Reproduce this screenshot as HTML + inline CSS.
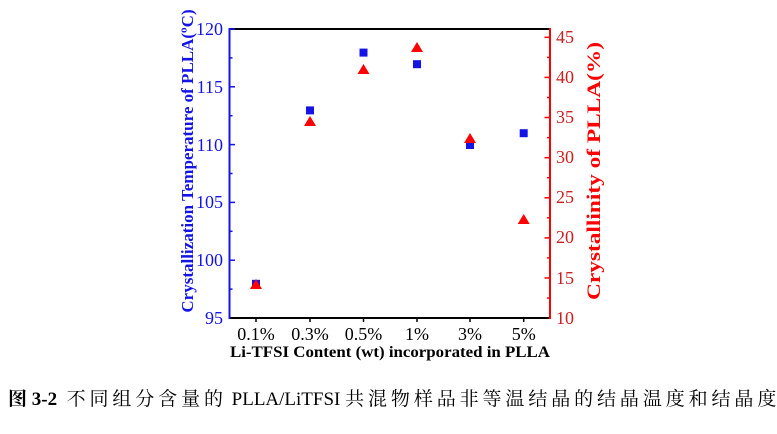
<!DOCTYPE html>
<html><head><meta charset="utf-8"><style>
html,body{margin:0;padding:0;background:#fff;width:777px;height:434px;overflow:hidden}
svg{display:block}
.c{letter-spacing:3.9px}
</style></head><body>
<svg width="777" height="434" xmlns="http://www.w3.org/2000/svg" font-family="Liberation Serif, serif">
<line x1="229.5" y1="29" x2="550" y2="29" stroke="#000" stroke-width="2"/>
<line x1="229.5" y1="318" x2="550" y2="318" stroke="#000" stroke-width="2"/>
<line x1="229.5" y1="28" x2="229.5" y2="319" stroke="#1414e6" stroke-width="2"/>
<line x1="550" y1="28" x2="550" y2="319" stroke="#ff0000" stroke-width="2"/>
<g stroke="#1414e6" stroke-width="1.5">
<line x1="229.5" x2="235" y1="29" y2="29"/><line x1="229.5" x2="232.5" y1="57.9" y2="57.9"/>
<line x1="229.5" x2="235" y1="86.8" y2="86.8"/><line x1="229.5" x2="232.5" y1="115.7" y2="115.7"/>
<line x1="229.5" x2="235" y1="144.6" y2="144.6"/><line x1="229.5" x2="232.5" y1="173.5" y2="173.5"/>
<line x1="229.5" x2="235" y1="202.4" y2="202.4"/><line x1="229.5" x2="232.5" y1="231.3" y2="231.3"/>
<line x1="229.5" x2="235" y1="260.2" y2="260.2"/><line x1="229.5" x2="232.5" y1="289.1" y2="289.1"/>
</g>
<g fill="#1414e6" font-size="18" text-anchor="end">
<text x="223" y="35">120</text><text x="223" y="93">115</text><text x="223" y="151">110</text>
<text x="223" y="208">105</text><text x="223" y="266">100</text><text x="223" y="324">95</text>
</g>
<g stroke="#ff0000" stroke-width="1.5">
<line x1="544.5" x2="550" y1="37.3" y2="37.3"/><line x1="547" x2="550" y1="57.4" y2="57.4"/>
<line x1="544.5" x2="550" y1="77.4" y2="77.4"/><line x1="547" x2="550" y1="97.5" y2="97.5"/>
<line x1="544.5" x2="550" y1="117.5" y2="117.5"/><line x1="547" x2="550" y1="137.6" y2="137.6"/>
<line x1="544.5" x2="550" y1="157.7" y2="157.7"/><line x1="547" x2="550" y1="177.7" y2="177.7"/>
<line x1="544.5" x2="550" y1="197.8" y2="197.8"/><line x1="547" x2="550" y1="217.8" y2="217.8"/>
<line x1="544.5" x2="550" y1="237.9" y2="237.9"/><line x1="547" x2="550" y1="257.9" y2="257.9"/>
<line x1="544.5" x2="550" y1="278" y2="278"/><line x1="547" x2="550" y1="298" y2="298"/>
</g>
<g fill="#cc2020" font-size="18">
<text x="556" y="43">45</text><text x="556" y="83">40</text><text x="556" y="123">35</text>
<text x="556" y="163">30</text><text x="556" y="203">25</text><text x="556" y="243">20</text>
<text x="556" y="284">15</text><text x="556" y="324">10</text>
</g>
<g stroke="#000" stroke-width="1.5">
<line x1="256" x2="256" y1="318" y2="322"/><line x1="310" x2="310" y1="318" y2="322"/>
<line x1="363.5" x2="363.5" y1="318" y2="322"/><line x1="417" x2="417" y1="318" y2="322"/>
<line x1="470" x2="470" y1="318" y2="322"/><line x1="523.7" x2="523.7" y1="318" y2="322"/>
</g>
<g font-size="18" text-anchor="middle" fill="#000">
<text x="256" y="340">0.1%</text><text x="310" y="340">0.3%</text><text x="363.5" y="340">0.5%</text>
<text x="417" y="340">1%</text><text x="470" y="340">3%</text><text x="523.7" y="340">5%</text>
</g>
<text x="230" y="357" font-size="16" font-weight="bold" textLength="320" lengthAdjust="spacingAndGlyphs">Li-TFSI Content (wt) incorporated in PLLA</text>
<text transform="translate(193,161) rotate(-90)" font-size="17" font-weight="bold" fill="#1414e6" text-anchor="middle">Crystallization Temperature of PLLA(ºC)</text>
<text transform="translate(600,300) rotate(-90)" font-size="19" font-weight="bold" fill="#ff0000" textLength="258" lengthAdjust="spacingAndGlyphs">Crystallinity of PLLA(%)</text>
<g fill="#1414e6">
<rect x="252" y="279.8" width="8" height="8"/>
<rect x="306" y="106.4" width="8" height="8"/>
<rect x="359.5" y="48.6" width="8" height="8"/>
<rect x="413" y="60.2" width="8" height="8"/>
<rect x="466" y="141" width="8" height="8"/>
<rect x="519.7" y="129.2" width="8" height="8"/>
</g>
<g fill="#ff0000">
<polygon points="256,279 250,289 262,289"/>
<polygon points="310,116 304,126 316,126"/>
<polygon points="363.5,64 357.5,74 369.5,74"/>
<polygon points="417,42 411,52 423,52"/>
<polygon points="470,133 464,143 476,143"/>
<polygon points="523.7,214 517.7,224 529.7,224"/>
</g>
<text x="8" y="405" font-size="19" font-family="Liberation Serif, Noto Serif CJK SC, serif"><tspan font-weight="bold">图 3-2</tspan>&#160; <tspan class="c">不同组分含量的</tspan> PLLA/LiTFSI <tspan class="c">共混物样品非等温结晶的结晶温度和结晶度</tspan></text>
</svg>
</body></html>
